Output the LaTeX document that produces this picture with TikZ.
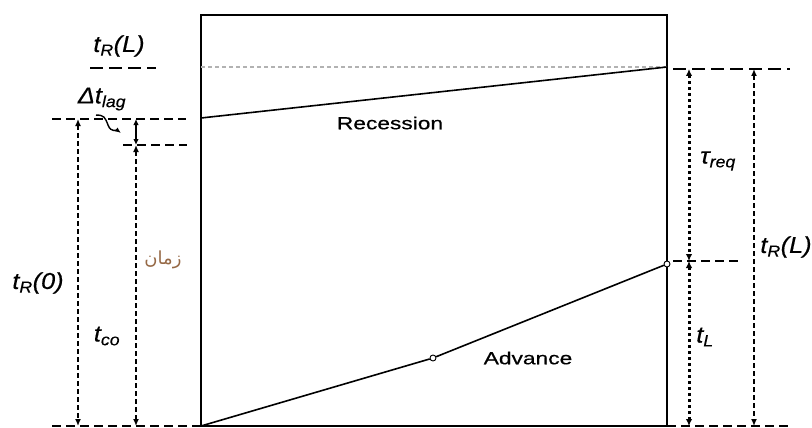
\documentclass[tikz,border=0pt]{standalone}
\usepackage{fontspec}
\setmainfont{Liberation Sans}
\newfontfamily\widefont[FakeStretch=1.3,FakeBold=0.5]{Liberation Sans}
\newfontfamily\lblfont[FakeStretch=1.1,FakeBold=0.4]{Liberation Sans}
\newfontfamily\arabicfont[Script=Arabic]{DejaVu Sans}
\TeXXeTstate=1
\usetikzlibrary{arrows.meta}
\definecolor{zamanbrown}{RGB}{150,105,70}

\tikzset{
  guide/.style={line width=1.5pt,dash pattern=on 9pt off 5pt},
  guidethick/.style={line width=2.8pt,dash pattern=on 13pt off 6pt},
  dimline/.style={line width=1.6pt,dash pattern=on 5pt off 3pt,
    {Latex[length=7pt,width=6pt]}-{Latex[length=7pt,width=6pt]}},
  dimdots/.style={line width=3pt,dash pattern=on 3pt off 3pt,
    {Latex[length=7pt,width=6.5pt]}-{Latex[length=7pt,width=6.5pt]}},
  lbl/.style={inner sep=0pt,font=\lblfont\fontsize{23}{26}\selectfont\itshape},
  word/.style={inner sep=0pt,font=\widefont\fontsize{17.5}{20}\selectfont},
  pt/.style={circle,draw,fill=white,inner sep=0pt,minimum size=6pt,line width=.9pt}
}

\begin{document}
\begin{tikzpicture}[x=1pt,y=-1pt,line width=1.2pt]
\path[use as bounding box] (0,0) rectangle (812,428);
% field box
\draw[line width=2.8pt] (201,15) rectangle (667,426);
% recession and advance curves
\coordinate (recL) at (201,118);
\coordinate (recR) at (667,67);
\draw[gray!60,line width=1.4pt,dash pattern=on 4pt off 3pt] (201,67) -- (recR);
\draw[line width=1.6pt] (recL) -- (recR);
\coordinate (advL) at (201,426);
\node[pt] (advM) at (433,358) {};
\node[pt] (advR) at (667,264) {};
\draw[line width=1.6pt] (advL) -- (advM) -- (advR);
\node[word] (rec) at (390,123) {Recession};
\node[word] (adv) at (528,358) {Advance};
% guide lines, left
\coordinate (gtopL1) at (90,68);   \coordinate (gtopL2) at (156,68);
\coordinate (gco1) at (52,119);    \coordinate (gco2) at (186,119);
\coordinate (glag1) at (123,145);  \coordinate (glag2) at (187,145);
\coordinate (gbotL1) at (52,426);  \coordinate (gbotL2) at (201,426);
\draw[guidethick] (gtopL1) -- (gtopL2);
\draw[guide] (gco1) -- (gco2);
\draw[guide] (glag1) -- (glag2);
\draw[guide] (gbotL1) -- (gbotL2);
% guide lines, right
\coordinate (gtopR1) at (673,69);  \coordinate (gtopR2) at (790,69);
\coordinate (gL1) at (673,261);    \coordinate (gL2) at (740,261);
\coordinate (gbotR1) at (667,426); \coordinate (gbotR2) at (790,426);
\draw[guidethick] (gtopR1) -- (gtopR2);
\draw[guide] (gL1) -- (gL2);
\draw[guide] (gbotR1) -- (gbotR2);
% dimension arrows, left
\coordinate (r0top) at (78,119);   \coordinate (r0bot) at (78,426);
\coordinate (cotop) at (136,145);  \coordinate (cobot) at (136,426);
\coordinate (lagtop) at (136,119);
\draw[dimline] (r0top) -- (r0bot);
\draw[dimline] (cotop) -- (cobot);
\draw[line width=1.5pt,{Latex[length=6pt,width=5.5pt]}-{Latex[length=6pt,width=5.5pt]}] (lagtop) -- (cotop);
% dimension arrows, right
\coordinate (reqtop) at (689,69);  \coordinate (reqbot) at (689,261);
\coordinate (Lbot) at (689,426);
\coordinate (rLtop) at (754,69);   \coordinate (rLbot) at (754,426);
\draw[dimdots] (reqtop) -- (reqbot);
\draw[dimdots] (reqbot) -- (Lbot);
\draw[dimline] (rLtop) -- (rLbot);
% labels
\node[lbl] (tRLleft) at (119,46) {t\textsubscript{R}(L)};
\node[lbl] (dtlag) at (102,99) {Δt\textsubscript{lag}};
\coordinate (lagtip) at (121,133);
\draw[line width=1.4pt,-{Latex[length=6pt,width=5pt]}] (dtlag.south) ++(-6,4)
  .. controls +(8,0) and +(-3,-8) .. ++(12,10) .. controls +(3,8) and +(-4,-3) .. (lagtip);
\node[lbl] (tR0) at (38,283) {t\textsubscript{R}(0)};
\node[lbl] (tco) at (107,336) {t\textsubscript{co}};
\node[lbl] (treq) at (718,161) {τ\textsubscript{req}};
\node[lbl] (tL) at (705,337) {t\textsubscript{L}};
\node[lbl] (tRLright) at (786,247) {t\textsubscript{R}(L)};
\node[inner sep=0pt,text=zamanbrown,font=\fontsize{18}{20}\selectfont] (zaman) at (163,260) {\arabicfont\beginR زمان\endR};
\end{tikzpicture}
\end{document}
